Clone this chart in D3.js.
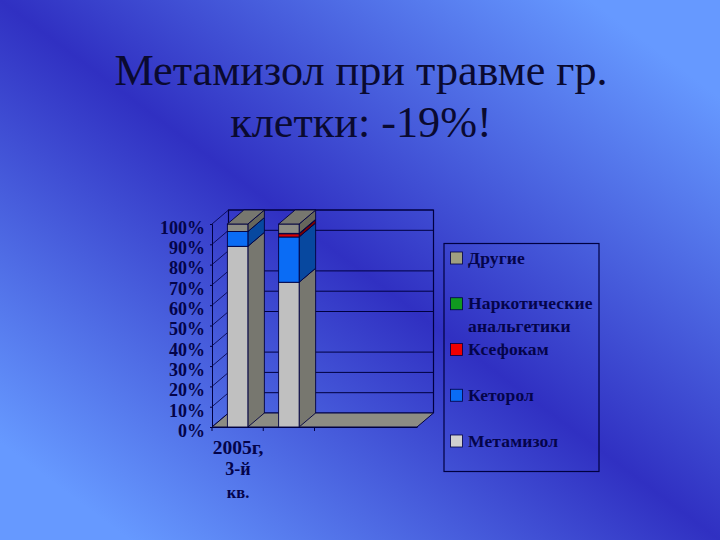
<!DOCTYPE html>
<html><head><meta charset="utf-8">
<script src="https://cdn.jsdelivr.net/npm/d3@7"></script>
<style>html,body{margin:0;padding:0;background:#3333cc}svg{display:block}text{font-family:"Liberation Serif",serif}</style>
</head><body><svg id="c" width="720" height="540"></svg>
<script>
const titleLines = ["Метамизол при травме гр.", "клетки: -19%!"];
const categories = ["2005г, 3-й кв.", "b", "c", "d"];
const tickedCategories = ["2005г, 3-й кв.", "b", "c"];
const categoryLabel = ["2005г,", "3-й", "кв."];
const legendNames = ["Другие", "Наркотические анальгетики", "Ксефокам", "Кеторол", "Метамизол"];
const metamizol = [89, 71.3];
const ketorol = [7.3, 22.3];
const ksefokam = [0, 1.6];
const narcotic = [0, 0.2];
const other = [3.7, 4.6];
const yTicks = [0,10,20,30,40,50,60,70,80,90,100];
const wallGrid = [0,10,20,30,50,60,70,90,100];
const frontColors = ["#c0c0c0","#0a6cf5","#d80000","#008a20","#8c8c84"];
const sideColors  = ["#77776f","#07489f","#7d0000","#005010","#66665c"];
const topColor = "#77776f";
const legendColors = ["#a0a080","#109a20","#f00000","#0a6cf5","#d0d0d0"];

const svg = d3.select("#c");
const defs = svg.append("defs");
const g = defs.append("linearGradient").attr("id","bg").attr("x1",1).attr("y1",0).attr("x2",0).attr("y2",1);
[[0,"#6699ff"],[0.09,"#6699ff"],[0.5,"#3030c2"],[0.91,"#6699ff"],[1,"#6699ff"]].forEach(s=>g.append("stop").attr("offset",s[0]).attr("stop-color",s[1]));
svg.append("rect").attr("width",720).attr("height",540).attr("fill","url(#bg)");

titleLines.forEach((t,i)=>svg.append("text").attr("x",361).attr("y",85+i*52).attr("text-anchor","middle").attr("font-size",44.2).attr("fill","#0a0a30").text(t));

const ink = "#000040", text = "#04044a";
const depthX = 16.5, depthY = -14;
const xSlot = d3.scaleBand().domain(categories).range([212,417]);
const x = d3.scaleBand().domain(categories).range([212,417]).paddingInner(0.6).paddingOuter(0.3);
const y = d3.scaleLinear().domain([0,100]).range([427,224]);
const poly = pts => pts.map(p=>p.join(",")).join(" ");
const x0 = xSlot.range()[0], x1 = xSlot.range()[1];

// walls
svg.append("polyline").attr("fill","none").attr("stroke",ink).attr("stroke-width",1.2)
  .attr("points",poly([[x0+depthX,y(0)+depthY],[x0+depthX,y(100)+depthY],[x1+depthX,y(100)+depthY],[x1+depthX,y(0)+depthY]]));
svg.selectAll(".grid").data(wallGrid).enter().append("line").attr("stroke",ink).attr("stroke-width",1)
  .attr("x1",x0+depthX).attr("x2",x1+depthX).attr("y1",d=>y(d)+depthY).attr("y2",d=>y(d)+depthY);
svg.selectAll(".sideg").data(yTicks).enter().append("line").attr("stroke",ink).attr("stroke-width",.8)
  .attr("x1",x0).attr("x2",x0+depthX).attr("y1",d=>y(d)).attr("y2",d=>y(d)+depthY);
svg.append("polygon").attr("fill","#8c8c84").attr("stroke",ink).attr("stroke-width",1)
  .attr("points",poly([[x0,y(0)],[x1,y(0)],[x1+depthX,y(0)+depthY],[x0+depthX,y(0)+depthY]]));

// axes
const ga = svg.append("g").attr("transform",`translate(${x0},0)`).call(d3.axisLeft(y).tickValues(yTicks).tickSize(2).tickFormat(d=>d+"%"));
ga.selectAll("path,line").attr("stroke",ink);
ga.selectAll("text").attr("x",-7).attr("dy","0.52em").attr("font-size",18).attr("font-weight","bold").attr("fill",text).attr("font-family","Liberation Serif");
const gx = svg.append("g").attr("transform","translate(0,427)").call(d3.axisBottom(xSlot).tickValues(tickedCategories).tickSizeInner(4).tickSizeOuter(0).tickFormat(""));
gx.selectAll("path").attr("stroke",ink);
gx.selectAll("line").attr("stroke",ink).attr("transform",d=>`translate(${-xSlot.bandwidth()/2+xSlot(d)+0-xSlot(d)},0)`);
categoryLabel.forEach((t,i)=>svg.append("text").attr("x",238).attr("y",[454,475,498][i]).attr("text-anchor","middle").attr("font-size",[19.5,18,16.5][i]).attr("font-weight","bold").attr("fill",text).text(t));

// stacked bars
const series = [metamizol,ketorol,ksefokam,narcotic,other];
const bw = x.bandwidth();
[0,1].forEach(ci=>{
  const left = x(categories[ci]);
  const r = left+bw;
  let base = 0;
  series.forEach((vals,si)=>{
    const v = vals[ci]; if(!v) return;
    const a=y(base), b=y(base+v);
    svg.append("polygon").attr("fill",sideColors[si]).attr("stroke",ink).attr("stroke-width",.9).attr("points",poly([[r,a],[r+depthX,a+depthY],[r+depthX,b+depthY],[r,b]]));
    svg.append("rect").attr("x",left).attr("y",b).attr("width",bw).attr("height",a-b).attr("fill",frontColors[si]).attr("stroke",ink).attr("stroke-width",.9);
    base+=v;
  });
  const t=y(base);
  svg.append("polygon").attr("fill",topColor).attr("stroke",ink).attr("stroke-width",.9).attr("points",poly([[left,t],[r,t],[r+depthX,t+depthY],[left+depthX,t+depthY]]));
});

// legend
svg.append("rect").attr("x",444).attr("y",243.5).attr("width",155).attr("height",228).attr("fill","none").attr("stroke",ink).attr("stroke-width",1.2);
const legendY = d3.scalePoint().domain(legendNames).range([258,441]);
legendNames.forEach((n,i)=>{
  const py = legendY(n);
  const lines = n.split(" ");
  svg.append("rect").attr("x",450.5).attr("y",py-6).attr("width",12).attr("height",12).attr("fill",legendColors[i]).attr("stroke","#000040").attr("stroke-width",.8);
  lines.forEach((l,j)=>svg.append("text").attr("x",468).attr("y",py+5.5+j*22.5).attr("font-size",17.5).attr("letter-spacing",0.15).attr("font-weight","bold").attr("fill",text).text(l));
});
</script></body></html>
